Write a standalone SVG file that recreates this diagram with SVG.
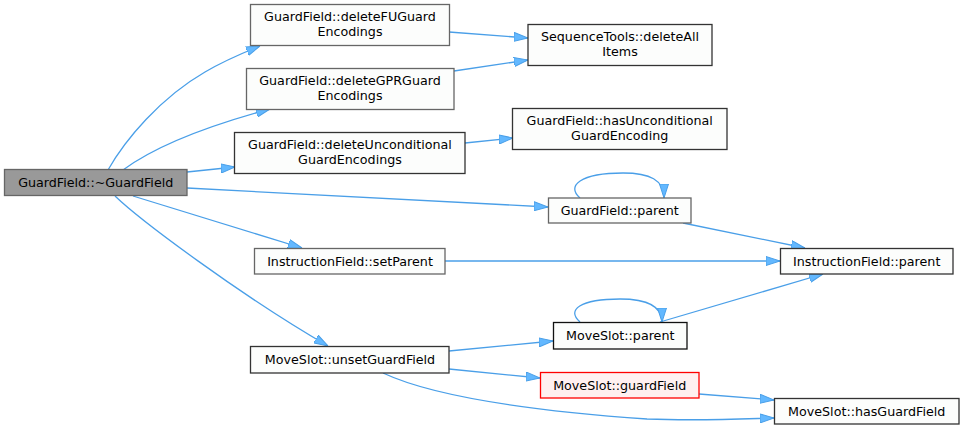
<svg xmlns="http://www.w3.org/2000/svg" width="964" height="429" viewBox="0 0 964 429">
<style>
text{font-family:"DejaVu Sans","Liberation Sans",sans-serif;font-size:12.7px;fill:#000;text-anchor:middle}
.n{fill:#fcfdfc;stroke:#666;stroke-width:1.3}
.d{fill:#fcfdfc;stroke:#333;stroke-width:1.3}
.e{fill:none;stroke:#4a9fe8;stroke-width:1.3}
</style>
<defs>
<marker id="a" viewBox="0 0 14 10" refX="14" refY="5" markerWidth="14" markerHeight="10" orient="auto" markerUnits="userSpaceOnUse">
<path d="M0,0.5 L14,5 L0,9.5 z" fill="#63b8ff" stroke="#4a9fe8" stroke-width="1"/>
</marker>
</defs>
<rect width="964" height="429" fill="#fff"/>
<g id="edges">
<path class="e" marker-end="url(#a)" d="M108,170 C125,140 160,98 205,72 C222,62 240,54 260,46"/>
<path class="e" marker-end="url(#a)" d="M123,170 C150,150 200,128 270,109"/>
<path class="e" marker-end="url(#a)" d="M187,172 L235,167"/>
<path class="e" marker-end="url(#a)" d="M187,188 L548,207"/>
<path class="e" marker-end="url(#a)" d="M133,196 L302,248"/>
<path class="e" marker-end="url(#a)" d="M115,196 C140,220 240,295 328,346"/>
<path class="e" marker-end="url(#a)" d="M449,32 L528,38"/>
<path class="e" marker-end="url(#a)" d="M454,71 L528,60"/>
<path class="e" marker-end="url(#a)" d="M465,143 L513,138"/>
<path class="e" marker-end="url(#a)" d="M580,198 C566,186 580,173 623,173 C650,173 664,180 664,198"/>
<path class="e" marker-end="url(#a)" d="M683,223 L805,248"/>
<path class="e" marker-end="url(#a)" d="M445,261 L780,261"/>
<path class="e" marker-end="url(#a)" d="M660,322 L823,274"/>
<path class="e" marker-end="url(#a)" d="M580,322 C566,310 580,299 620,299 C648,299 662,306 662,322"/>
<path class="e" marker-end="url(#a)" d="M449,351 L553,341"/>
<path class="e" marker-end="url(#a)" d="M449,369 L540,378"/>
<path class="e" marker-end="url(#a)" d="M383,373 C430,395 520,410 647,419 C700,421 740,419 774,418"/>
<path class="e" marker-end="url(#a)" d="M699,394 L774,400"/>
</g>
<g id="n0"><rect x="4.5" y="169.5" width="182.5" height="26" fill="#999" stroke="#666" stroke-width="1.3"/><text x="95.7" y="187">GuardField::~GuardField</text></g>
<g id="n1"><rect class="n" x="250.5" y="4.5" width="199" height="41"/><text x="350" y="21">GuardField::deleteFUGuard</text><text x="350" y="36">Encodings</text></g>
<g id="n2"><rect class="n" x="246.5" y="68.5" width="207.5" height="41"/><text x="350" y="85">GuardField::deleteGPRGuard</text><text x="350" y="100">Encodings</text></g>
<g id="n3"><rect class="d" x="234.5" y="132.5" width="230.5" height="41"/><text x="350" y="149">GuardField::deleteUnconditional</text><text x="350" y="164">GuardEncodings</text></g>
<g id="n4"><rect class="d" x="528" y="24.5" width="184" height="41"/><text x="620" y="41">SequenceTools::deleteAll</text><text x="620" y="56">Items</text></g>
<g id="n5"><rect class="d" x="512.5" y="108.5" width="214.5" height="41"/><text x="619.7" y="125">GuardField::hasUnconditional</text><text x="619.7" y="140">GuardEncoding</text></g>
<g id="n6"><rect class="n" x="548.5" y="198" width="142.5" height="25"/><text x="619.7" y="215">GuardField::parent</text></g>
<g id="n7"><rect class="n" x="254.5" y="248.5" width="190.5" height="25.5"/><text x="350" y="265.5">InstructionField::setParent</text></g>
<g id="n8"><rect class="d" x="250.5" y="346.5" width="198.5" height="26.5"/><text x="350" y="364">MoveSlot::unsetGuardField</text></g>
<g id="n9"><rect class="d" x="780.5" y="248.5" width="172.5" height="25.5"/><text x="866.7" y="265.5">InstructionField::parent</text></g>
<g id="n10"><rect x="553.5" y="322.5" width="133.5" height="26.5" fill="#fcfdfc" stroke="#111" stroke-width="1.3"/><text x="620.2" y="340">MoveSlot::parent</text></g>
<g id="n11"><rect x="540.5" y="372.5" width="158.5" height="25.5" fill="#fff0f0" stroke="#f00" stroke-width="1.3"/><text x="619.7" y="390">MoveSlot::guardField</text></g>
<g id="n12"><rect class="d" x="774.5" y="398.5" width="184.5" height="25.5"/><text x="866.7" y="416">MoveSlot::hasGuardField</text></g>
</svg>
